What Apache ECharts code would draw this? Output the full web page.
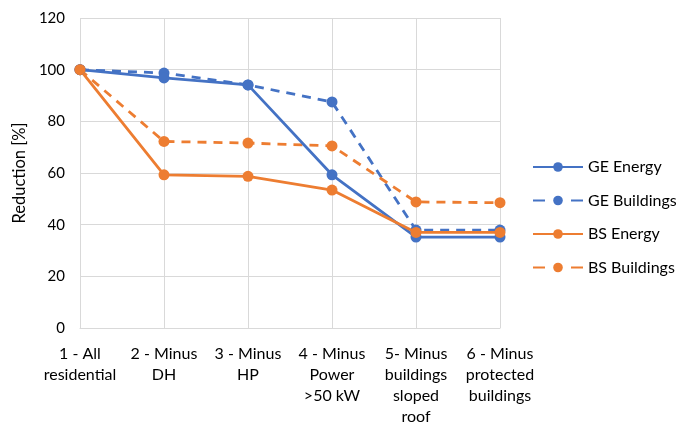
<!DOCTYPE html>
<html>
<head>
<meta charset="utf-8">
<script src="https://cdn.jsdelivr.net/npm/echarts@6/dist/echarts.min.js"></script>
<style>
  html, body { margin: 0; padding: 0; background: #fff; }
  #chart { width: 676px; height: 422px; }
</style>
</head>
<body>
<div id="chart"></div>
<script>
// Scenario categories (x axis)
const categories = [
  '1 - All\nresidential',
  '2 - Minus\nDH',
  '3 - Minus\nHP',
  '4 - Minus\nPower\n>50 kW',
  '5- Minus\nbuildings\nsloped\nroof',
  '6 - Minus\nprotected\nbuildings'
];

// Reduction [%] per scenario
const geEnergy    = [100, 96.8, 94.1, 59.3, 35.2, 35.2];
const geBuildings = [100, 98.7, 94.1, 87.5, 37.9, 37.9];
const bsEnergy    = [100, 59.3, 58.7, 53.4, 37.0, 37.0];
const bsBuildings = [100, 72.2, 71.6, 70.5, 48.8, 48.5];

const seriesNames = ['GE Energy', 'GE Buildings', 'BS Energy', 'BS Buildings'];

const BLUE = '#4472C4';
const ORANGE = '#ED7D31';
const FONT = 'Lato';
const FS = 15;
const FS_TEXT = 16;

function lineSeries(name, data, color, dashed) {
  return {
    name: name,
    type: 'line',
    data: data,
    symbol: 'circle',
    symbolSize: 11,
    itemStyle: { color: color },
    lineStyle: { color: color, width: 2.8, type: dashed ? [9, 7] : 'solid' },
    emphasis: { disabled: true },
    z: dashed ? 2 : 3
  };
}

// legend entries: dashed series show "dash - dot - dash"
const legendData = seriesNames.map(function (n, i) {
  const dashed = i % 2 === 1;
  return dashed ? { name: n, lineStyle: { type: [12, 26] } } : { name: n };
});

const chart = echarts.init(document.getElementById('chart'), null, { renderer: 'canvas' });
chart.setOption({
  animation: false,
  backgroundColor: '#ffffff',
  textStyle: { fontFamily: FONT },
  grid: { left: 80, right: 176, top: 18, bottom: 94, containLabel: false, outerBoundsMode: 'none' },
  legend: {
    orient: 'vertical',
    left: 527,
    top: 154,
    itemGap: 17.5,
    itemWidth: 50,
    itemHeight: 12,
    data: legendData,
    textStyle: { fontFamily: FONT, fontSize: FS_TEXT, color: '#000' }
  },
  xAxis: {
    type: 'category',
    data: categories,
    boundaryGap: false,
    axisLine: { show: true, lineStyle: { color: '#d9d9d9', width: 1 } },
    axisTick: { show: false },
    splitLine: { show: true, lineStyle: { color: '#d9d9d9', width: 1 } },
    axisLabel: {
      interval: 0,
      color: '#000',
      fontFamily: FONT,
      fontSize: FS_TEXT,
      lineHeight: 21,
      margin: 15
    }
  },
  yAxis: {
    type: 'value',
    min: 0,
    max: 120,
    interval: 20,
    name: 'Reduction [%]',
    nameLocation: 'middle',
    nameGap: 49,
    nameTextStyle: { color: '#000', fontFamily: FONT, fontSize: 16.5 },
    axisLine: { show: false },
    axisTick: { show: false },
    splitLine: { show: true, lineStyle: { color: '#d9d9d9', width: 1 } },
    axisLabel: { color: '#000', fontFamily: FONT, fontSize: FS, margin: 15 }
  },
  series: [
    lineSeries(seriesNames[0], geEnergy, BLUE, false),
    lineSeries(seriesNames[1], geBuildings, BLUE, true),
    lineSeries(seriesNames[2], bsEnergy, ORANGE, false),
    lineSeries(seriesNames[3], bsBuildings, ORANGE, true)
  ]
});
</script>
</body>
</html>
